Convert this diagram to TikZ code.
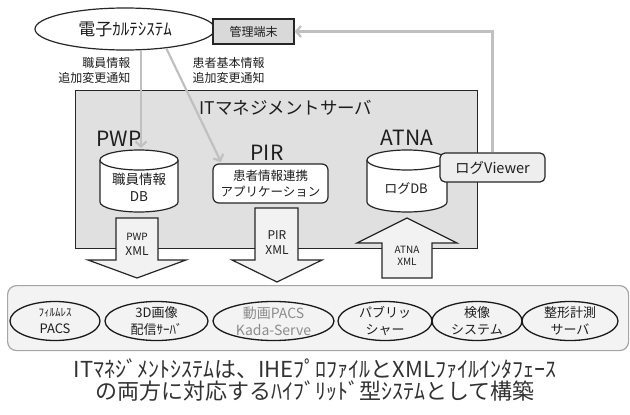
\documentclass[tikz,border=0pt]{standalone}
\usepackage{fontspec}
\setmainfont{Noto Sans CJK JP}
\usetikzlibrary{arrows.meta,shapes.geometric}
\definecolor{srvfill}{RGB}{224,224,224}
\definecolor{lgray}{RGB}{192,192,192}
\definecolor{arrfill}{RGB}{242,242,242}
\definecolor{basefill}{RGB}{243,243,243}
\definecolor{baseedge}{RGB}{165,165,165}
\definecolor{boxfill}{RGB}{217,217,217}
\definecolor{viewfill}{RGB}{238,238,238}
\definecolor{txt}{RGB}{30,30,30}
\definecolor{txtgray}{RGB}{140,140,140}
\definecolor{captxt}{RGB}{50,50,50}
\tikzset{
  ln/.style={line width=1.2pt, draw=black!85},
  garrow/.style={draw=lgray, line width=2.2pt, -{Straight Barb[length=5pt,width=11pt]}},
  blockarrow/.style={ln, fill=arrfill, line join=miter},
  bell/.style={ellipse, draw=black!90, line width=1.3pt, inner sep=0, minimum height=39pt},
}
\begin{document}
\begin{tikzpicture}[x=1pt,y=-1pt, every node/.style={text=txt}]
\useasboundingbox (0,0) rectangle (630,415);

% top: EMR ellipse and terminal
\node[ellipse, ln, fill=white, minimum width=180pt, minimum height=42pt, inner sep=0, font=\fontsize{17}{20}\selectfont] (emr) at (125,29) {電子ｶﾙﾃｼｽﾃﾑ};
\node[ln, fill=boxfill, minimum width=81pt, minimum height=25pt, inner sep=0, font=\fontsize{12}{15}\selectfont] (kanri) at (253.5,31.5) {管理端末};

\node[align=right, anchor=north east, font=\fontsize{12}{15}\selectfont] (lab1) at (134,54) {職員情報\\追加変更通知};
\node[align=left, anchor=north west, font=\fontsize{12}{15}\selectfont] (lab2) at (189,54) {患者基本情報\\追加変更通知};

% server box
\node[ln, fill=srvfill, minimum width=402pt, minimum height=158pt, anchor=north west, inner sep=0] (srv) at (75,90) {};
\node[font=\fontsize{17.5}{20}\selectfont] (srvtitle) at (286,108) {ITマネジメントサーバ};

% PWP
\node[font=\fontsize{21}{24}\selectfont] (pwplab) at (119,139) {PWP};
\draw[ln, fill=white] (100,160) -- (100,202) arc[start angle=180,end angle=360,x radius=39pt,y radius=10pt] -- (178,160);
\draw[ln, fill=white] (139,160) ellipse[x radius=39pt,y radius=10pt];
\node[align=center, font=\fontsize{13.5}{17}\selectfont] (pwpdb) at (139,187) {職員情報\\DB};
\coordinate (pwpin) at (141,148);

% PIR
\node[font=\fontsize{21}{24}\selectfont] (pirlab) at (267,153) {PIR};
\node[ln, fill=white, rounded corners=6pt, minimum width=115pt, minimum height=39pt, inner sep=0, align=center, font=\fontsize{12.5}{15.5}\selectfont] (pirapp) at (270.5,183.5) {患者情報連携\\アプリケーション};
\coordinate (pirin) at (221,162);

% ATNA
\node[font=\fontsize{21}{24}\selectfont] (atnalab) at (407,138) {ATNA};
\draw[ln, fill=white] (367,160) -- (367,202) arc[start angle=180,end angle=360,x radius=40pt,y radius=10pt] -- (447,160);
\draw[ln, fill=white] (407,160) ellipse[x radius=40pt,y radius=10pt];
\node[font=\fontsize{13}{16}\selectfont] (logdb) at (406,188) {ログDB};
\node[ln, fill=viewfill, rounded corners=5pt, minimum width=105pt, minimum height=29pt, inner sep=0, font=\fontsize{14.5}{17}\selectfont] (viewer) at (492.5,167.5) {ログViewer};

% gray connectors
\draw[garrow] (pwpin |- emr.south) -- (pwpin);
\draw[garrow] (emr.-25) -- (pirin);
\draw[garrow] (viewer.north) |- (kanri.east);

% block arrows
\draw[blockarrow] (116,218) -- (158,218) -- (158,260) -- (186,260) -- (137,278) -- (88,260) -- (116,260) -- cycle;
\node[align=center, font=\fontsize{12}{15}\selectfont] (pwpxml) at (137,244) {{\fontsize{10}{12}\selectfont PWP}\\XML};
\draw[blockarrow] (255,208) -- (298,208) -- (298,260) -- (322,260) -- (277,282) -- (232,260) -- (255,260) -- cycle;
\node[align=center, font=\fontsize{12}{15}\selectfont] (pirxml) at (277,242.5) {PIR\\XML};
\draw[blockarrow] (382,278) -- (432,278) -- (432,243) -- (457,243) -- (407,218) -- (357,243) -- (382,243) -- cycle;
\node[align=center, font=\fontsize{10}{12.5}\selectfont] (atnaxml) at (407,256) {ATNA\\XML};

% bottom systems
\node[draw=baseedge, fill=basefill, rounded corners=9pt, line width=1.2pt, minimum width=621pt, minimum height=65pt, anchor=north west, inner sep=0] (base) at (7,285) {};
\node[bell, minimum width=90pt] (b1) at (55,321) {};
\node[bell, minimum width=103pt] (b2) at (156.5,321) {};
\node[bell, minimum width=121pt] (b3) at (273.5,321) {};
\node[bell, minimum width=94pt] (b4) at (385,321) {};
\node[bell, minimum width=90pt] (b5) at (477,321) {};
\node[bell, minimum width=96pt] (b6) at (570,321) {};
\node[align=center, font=\fontsize{13}{17}\selectfont] (b1t) at (b1) {{\fontsize{11}{13}\selectfont ﾌｨﾙﾑﾚｽ}\\PACS};
\node[align=center, font=\fontsize{13}{17}\selectfont] (b2t) at (b2) {3D画像\\配信ｻｰﾊﾞ};
\node[align=center, font=\fontsize{14}{17}\selectfont, text=txtgray] (b3t) at (b3) {動画PACS\\Kada-Serve};
\node[align=center, font=\fontsize{13}{17}\selectfont] (b4t) at (b4) {パブリッ\\シャー};
\node[align=center, font=\fontsize{13}{17}\selectfont] (b5t) at (b5) {検像\\システム};
\node[align=center, font=\fontsize{13}{17}\selectfont] (b6t) at (b6) {整形計測\\サーバ};

% caption
\node[align=center, text=captxt, font=\fontsize{22}{22}\selectfont] (caption) at (315,380) {ITﾏﾈｼﾞﾒﾝﾄｼｽﾃﾑは、IHEﾌﾟﾛﾌｧｲﾙとXMLﾌｧｲﾙｲﾝﾀﾌｪｰｽ\\の両方に対応するﾊｲﾌﾞﾘｯﾄﾞ型ｼｽﾃﾑとして構築};
\end{tikzpicture}
\end{document}
